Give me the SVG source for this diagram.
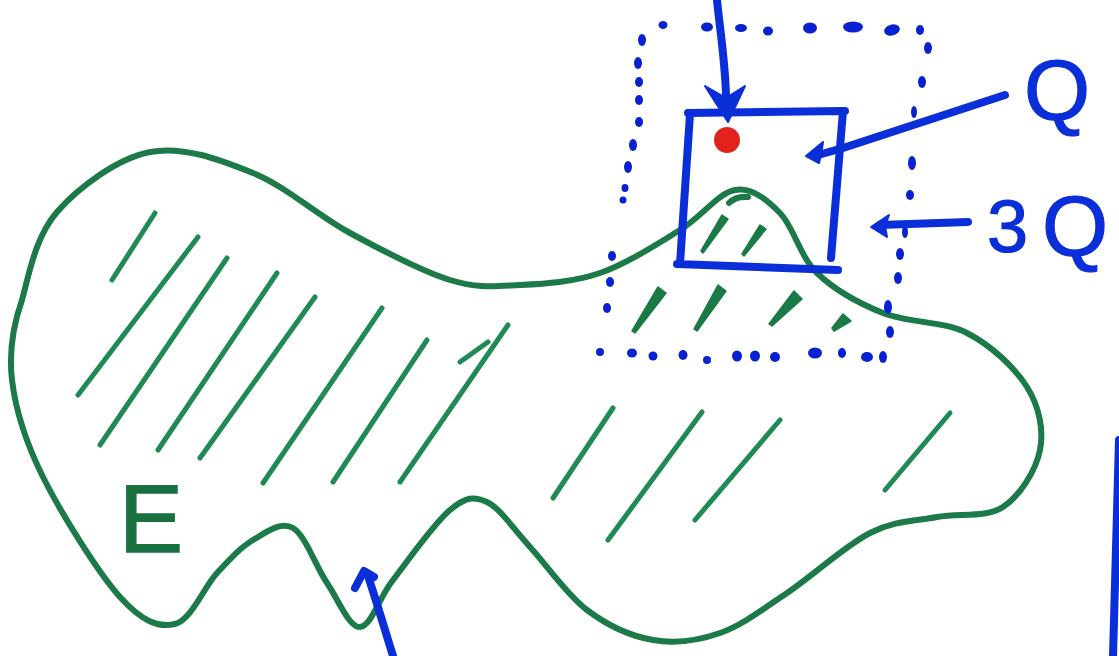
<svg xmlns="http://www.w3.org/2000/svg" width="1119" height="656" viewBox="0 0 1119 656">
<style>
.g{fill:none;stroke:#1b7a48;stroke-width:6;stroke-linecap:round;stroke-linejoin:round}
.h{fill:none;stroke:#1f8a54;stroke-width:5;stroke-linecap:round}
.hf{fill:#1a7a45;stroke:#1a7a45;stroke-width:1.5;stroke-linejoin:round}
.b{fill:none;stroke:#0a2ed8;stroke-width:8;stroke-linecap:round;stroke-linejoin:round}
.bf{fill:#0a2ed8;stroke:#0a2ed8;stroke-width:2;stroke-linejoin:round}
.d{fill:#0822d2}
.t{font-family:"Liberation Sans",Arial,sans-serif;fill:#0a2ed8;stroke:#0a2ed8;stroke-width:1.2}
</style>
<rect width="1119" height="656" fill="#ffffff"/>
<g id="region-E">
<path class="g" d="M22,300 C29.5,272 35.7,236.7 57,212 C78.3,187.3 117.3,158.5 150,152 C182.7,145.5 219.7,159.5 253,173 C286.3,186.5 317.2,215.2 350,233 C382.8,250.8 421.7,271.3 450,280 C478.3,288.7 495,286.2 520,285 C545,283.8 573.3,282.2 600,273 C626.7,263.8 657.5,243.8 680,230 C702.5,216.2 718.3,192.8 735,190 C751.7,187.2 766.3,199.2 780,213 C793.7,226.8 799.8,256.3 817,273 C834.2,289.7 858,303 883,313 C908,323 943,320.7 967,333 C991,345.3 1014.8,367.5 1027,387 C1039.2,406.5 1044,430 1040,450 C1036,470 1020.2,495.8 1003,507 C985.8,518.2 959.2,512.7 937,517 C914.8,521.3 895,520.3 870,533 C845,545.7 812,576.3 787,593 C762,609.7 742.3,625.2 720,633 C697.7,640.8 675.2,643.8 653,640 C630.8,636.2 607.5,625.5 587,610 C566.5,594.5 546.7,565 530,547 C513.3,529 500.3,508.2 487,502 C473.7,495.8 465.7,497 450,510 C434.3,523 408,560.5 393,580 C378,599.5 371,626.5 360,627 C349,627.5 338.2,599.5 327,583 C315.8,566.5 305.3,535.2 293,528 C280.7,520.8 265.7,532.5 253,540 C240.3,547.5 230,559 217,573 C204,587 191.2,620 175,624 C158.8,628 142,621.5 120,597 C98,572.5 61,513.2 43,477 C25,440.8 15.5,409.5 12,380 C8.5,350.5 14.5,321.5 22,300 Z"/>
<path class="g" d="M729,203 Q736,196 748,197"/>
<g id="hatching">
<line class="h" x1="155" y1="213" x2="112" y2="280" stroke-width="4"/>
<line class="h" x1="198" y1="237" x2="78" y2="395"/>
<line class="h" x1="227" y1="258" x2="100" y2="445"/>
<line class="h" x1="277" y1="273" x2="158" y2="450"/>
<line class="h" x1="315" y1="297" x2="200" y2="458"/>
<line class="h" x1="382" y1="308" x2="263" y2="483"/>
<line class="h" x1="427" y1="340" x2="333" y2="482"/>
<line class="h" x1="508" y1="325" x2="400" y2="482"/>
<line class="h" x1="488" y1="342" x2="460" y2="362" stroke-width="3"/>
<line class="h" x1="613" y1="408" x2="553" y2="498" stroke-width="4.5"/>
<line class="h" x1="702" y1="412" x2="608" y2="540" stroke-width="4.5"/>
<line class="h" x1="780" y1="420" x2="695" y2="520" stroke-width="4.5"/>
<line class="h" x1="950" y1="413" x2="885" y2="490" stroke-width="4.5"/>
<polygon class="hf" points="722,215 728,219 703,253 701,251"/>
<polygon class="hf" points="760,225 766,229 744,256 742,254"/>
<polygon class="hf" points="658,287 666,293 635,333 632,331"/>
<polygon class="hf" points="718,285 726,291 697,331 694,329"/>
<polygon class="hf" points="794,291 802,299 772,326 769,324"/>
<polygon class="hf" points="843,314 851,321 834,331 832,328"/>
</g>
<text x="119" y="552" font-family="Liberation Sans, Arial, sans-serif" font-size="96" fill="#1b7040" stroke="#1b7040" stroke-width="1.5">E</text>
</g>
<g id="box-3Q">
<ellipse class="d" cx="663" cy="25" rx="4.5" ry="4"/>
<ellipse class="d" cx="707" cy="27" rx="6" ry="4.5"/>
<ellipse class="d" cx="741" cy="28" rx="6" ry="4"/>
<ellipse class="d" cx="768" cy="31" rx="5" ry="4.5"/>
<ellipse class="d" cx="810" cy="28" rx="7" ry="5.5"/>
<ellipse class="d" cx="853" cy="27" rx="10" ry="5.5"/>
<ellipse class="d" cx="892" cy="30" rx="8" ry="5.5" transform="rotate(-15 892 30)"/>
<ellipse class="d" cx="920" cy="30" rx="4" ry="5"/>
<ellipse class="d" cx="928" cy="48" rx="4" ry="6"/>
<ellipse class="d" cx="922" cy="82" rx="4" ry="6"/>
<ellipse class="d" cx="914" cy="112" rx="3" ry="6"/>
<ellipse class="d" cx="912" cy="163" rx="4" ry="7"/>
<ellipse class="d" cx="910" cy="195" rx="4" ry="5"/>
<ellipse class="d" cx="905" cy="232" rx="3" ry="6"/>
<ellipse class="d" cx="900" cy="254" rx="4" ry="6"/>
<ellipse class="d" cx="898" cy="278" rx="4" ry="6"/>
<ellipse class="d" cx="888" cy="307" rx="4" ry="7"/>
<ellipse class="d" cx="890" cy="332" rx="4" ry="6"/>
<ellipse class="d" cx="642" cy="40" rx="4" ry="6"/>
<ellipse class="d" cx="638" cy="63" rx="4" ry="6"/>
<ellipse class="d" cx="639" cy="82" rx="4" ry="5"/>
<ellipse class="d" cx="639" cy="100" rx="4" ry="5"/>
<ellipse class="d" cx="639" cy="122" rx="4" ry="5"/>
<ellipse class="d" cx="633" cy="145" rx="4" ry="6"/>
<ellipse class="d" cx="628" cy="167" rx="4" ry="6"/>
<ellipse class="d" cx="625" cy="188" rx="3.5" ry="4"/>
<ellipse class="d" cx="623" cy="200" rx="3.5" ry="3.5"/>
<ellipse class="d" cx="612" cy="256" rx="4" ry="5"/>
<ellipse class="d" cx="610" cy="282" rx="4" ry="5"/>
<ellipse class="d" cx="607" cy="308" rx="4" ry="5"/>
<ellipse class="d" cx="600" cy="352" rx="4" ry="4"/>
<ellipse class="d" cx="632" cy="353" rx="5" ry="4.5"/>
<ellipse class="d" cx="653" cy="356" rx="4.5" ry="4.5"/>
<ellipse class="d" cx="683" cy="355" rx="4.5" ry="5"/>
<ellipse class="d" cx="707" cy="360" rx="4" ry="4"/>
<ellipse class="d" cx="737" cy="356" rx="5" ry="5.5"/>
<ellipse class="d" cx="755" cy="356" rx="5" ry="5.5"/>
<ellipse class="d" cx="775" cy="357" rx="5" ry="5"/>
<ellipse class="d" cx="815" cy="353" rx="7" ry="5.5"/>
<ellipse class="d" cx="842" cy="353" rx="4" ry="5"/>
<ellipse class="d" cx="867" cy="357" rx="6" ry="5"/>
<ellipse class="d" cx="883" cy="357" rx="4" ry="6"/>
</g>
<g id="box-Q">
<path class="b" d="M688,113 L845,111 M843,111 L831,258 M690,114 L680,264 M677,264 L838,270"/>
</g>
<g id="point">
<circle cx="727" cy="140" r="13" fill="#e2231d"/>
</g>
<g id="connectors">
<path class="b" d="M717,0 C720,30 725,60 726,95"/>
<polygon class="bf" points="705,86 726,98 745,86 728,122"/>
<path class="b" d="M1005,95 L843,148 L818,155"/>
<polygon class="bf" points="806,156 823,142 821,155 819,163"/>
<path class="b" d="M968,222 L880,225" stroke-width="7"/>
<polygon class="bf" points="871,227 889,215 885,226 887,237"/>
<path class="b" d="M393,656 C385,630 376,600 368,576" stroke-width="6"/>
<path class="b" d="M355,588 L364,571 L374,577" stroke-width="7"/>
<path class="b" d="M1119,440 L1113,656" stroke-width="6"/>
</g>
<g id="labels">
<text class="t" x="1024" y="120" font-size="85">Q</text>
<text class="t" y="252"><tspan x="987" font-size="74">3</tspan><tspan x="1042" y="256" font-size="85">Q</tspan></text>
</g>
</svg>
